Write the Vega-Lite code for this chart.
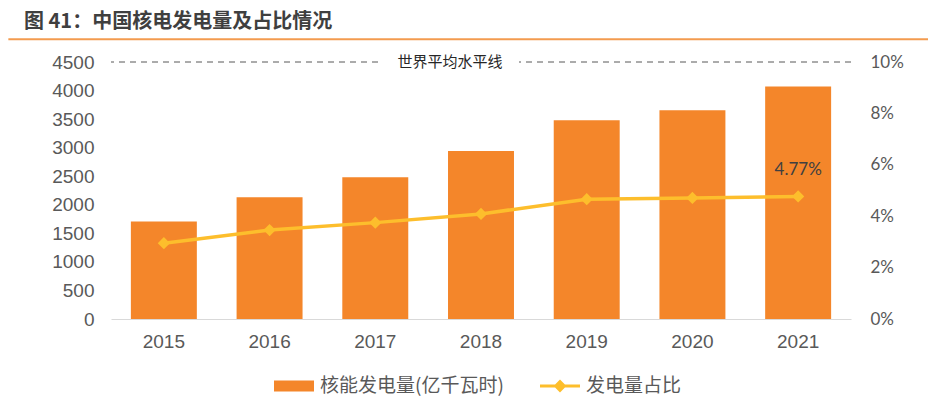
{
  "$schema": "https://vega.github.io/schema/vega-lite/v6.json",
  "background": "white",
  "padding": {"left": 7, "top": 12, "right": 0, "bottom": 0},
  "config": {"view": {"stroke": null}, "font": "Noto Sans CJK SC"},
  "title": {"text": "图 41：中国核电发电量及占比情况", "anchor": "start", "frame": "group", "dx": -87, "offset": 6, "fontSize": 20, "fontWeight": "bold", "color": "#3f3f3f", "font": "Noto Sans CJK SC"},
  "width": 740,
  "height": 257,
  "data": {"values": [
    {"year": "2015", "gen": 1708, "share": 0.0295},
    {"year": "2016", "gen": 2131, "share": 0.0346},
    {"year": "2017", "gen": 2480, "share": 0.0375},
    {"year": "2018", "gen": 2942, "share": 0.0409},
    {"year": "2019", "gen": 3481, "share": 0.0466},
    {"year": "2020", "gen": 3656, "share": 0.0471},
    {"year": "2021", "gen": 4070, "share": 0.0477}
  ]},
  "layer": [
    {
      "mark": {"type": "bar", "color": "#F4862A"},
      "encoding": {
        "x": {"field": "year", "type": "ordinal",
          "scale": {"paddingInner": 0.376, "paddingOuter": 0.188},
          "axis": {"title": null, "labelAngle": 0, "labelFont": "Liberation Sans", "labelFontSize": 19, "labelColor": "#595959", "domainColor": "#d9d9d9", "domainWidth": 1, "ticks": false, "labelPadding": 13}},
        "y": {"field": "gen", "type": "quantitative",
          "scale": {"domain": [0, 4500], "nice": false},
          "axis": {"title": null, "values": [0, 500, 1000, 1500, 2000, 2500, 3000, 3500, 4000, 4500], "format": "d", "labelOverlap": false, "grid": false, "domain": false, "ticks": false, "labelPadding": 17, "labelFont": "Liberation Sans", "labelFontSize": 19, "labelColor": "#595959"}},
        "color": {"datum": "核能发电量(亿千瓦时)",
          "scale": {"domain": ["核能发电量(亿千瓦时)", "发电量占比"], "range": ["#F4862A", "#FDBE2C"]},
          "legend": {
            "orient": "none", "legendX": 163, "legendY": 304, "direction": "horizontal",
            "title": null, "padding": 0,
            "labelFont": "Noto Sans CJK SC", "labelFontSize": 19, "labelColor": "#595959", "labelOffset": 6, "labelLimit": 400,
            "symbolSize": 1600, "columnPadding": 36, "symbolStrokeWidth": 0,
            "symbolType": "M-1,-0.28H1V0.28H-1Z",
            "encode": {"symbols": {"update": {
              "shape": {"signal": "datum.value === '发电量占比' ? 'M-1,-0.075H1V0.075H-1Z M0,-0.32L0.32,0L0,0.32L-0.32,0Z' : 'M-1,-0.28H1V0.28H-1Z'"},
              "fill": {"signal": "datum.value === '发电量占比' ? '#FDBE2C' : '#F4862A'"},
              "strokeWidth": {"value": 0},
              "opacity": {"value": 1}
            }}}
          }}
      }
    },
    {
      "layer": [
        {
          "mark": {"type": "line", "strokeWidth": 3.5, "point": {"shape": "diamond", "size": 150, "filled": true}},
          "encoding": {
            "x": {"field": "year", "type": "ordinal"},
            "y": {"field": "share", "type": "quantitative",
              "scale": {"domain": [0, 0.1], "nice": false},
              "axis": {"orient": "right", "title": null, "values": [0, 0.02, 0.04, 0.06, 0.08, 0.1], "format": ".0%", "grid": false, "domain": false, "ticks": false, "labelPadding": 19, "labelFont": "Lato", "labelFontSize": 17, "labelColor": "#595959"}},
            "color": {"datum": "发电量占比"}
          }
        },
        {
          "transform": [{"filter": "datum.year == '2021'"}],
          "mark": {"type": "text", "font": "Lato", "fontSize": 17, "color": "#404040", "dy": -26, "baseline": "middle"},
          "encoding": {
            "x": {"field": "year", "type": "ordinal"},
            "y": {"field": "share", "type": "quantitative"},
            "text": {"field": "share", "format": ".2%"}
          }
        }
      ]
    },
    {
      "data": {"values": [{"label": "世界平均水平线", "level": 1, "lo": 0.974, "hi": 1.026}]},
      "layer": [
        {
          "mark": {"type": "rule", "color": "#595959", "strokeDash": [6, 5], "strokeWidth": 1},
          "encoding": {"y": {"field": "level", "type": "quantitative", "scale": {"domain": [0, 1], "nice": false}, "axis": null}}
        },
        {
          "mark": {"type": "bar", "color": "white", "width": 138, "xOffset": -31},
          "encoding": {"x": {"datum": "2018"}, "y": {"field": "lo", "type": "quantitative", "axis": null}, "y2": {"field": "hi"}}
        },
        {
          "mark": {"type": "text", "font": "Noto Sans CJK SC", "fontSize": 15, "color": "#262626", "xOffset": -31, "baseline": "middle"},
          "encoding": {"x": {"datum": "2018"}, "y": {"field": "level", "type": "quantitative", "axis": null}, "text": {"field": "label"}}
        },
        {
          "mark": {"type": "rule", "color": "#F39B4F", "strokeWidth": 2, "xOffset": -155.5, "x2Offset": 131, "yOffset": -22.7},
          "encoding": {"x": {"datum": "2015"}, "x2": {"datum": "2021"}, "y": {"field": "level", "type": "quantitative", "axis": null}}
        }
      ]
    }
  ],
  "resolve": {"scale": {"y": "independent"}}
}
